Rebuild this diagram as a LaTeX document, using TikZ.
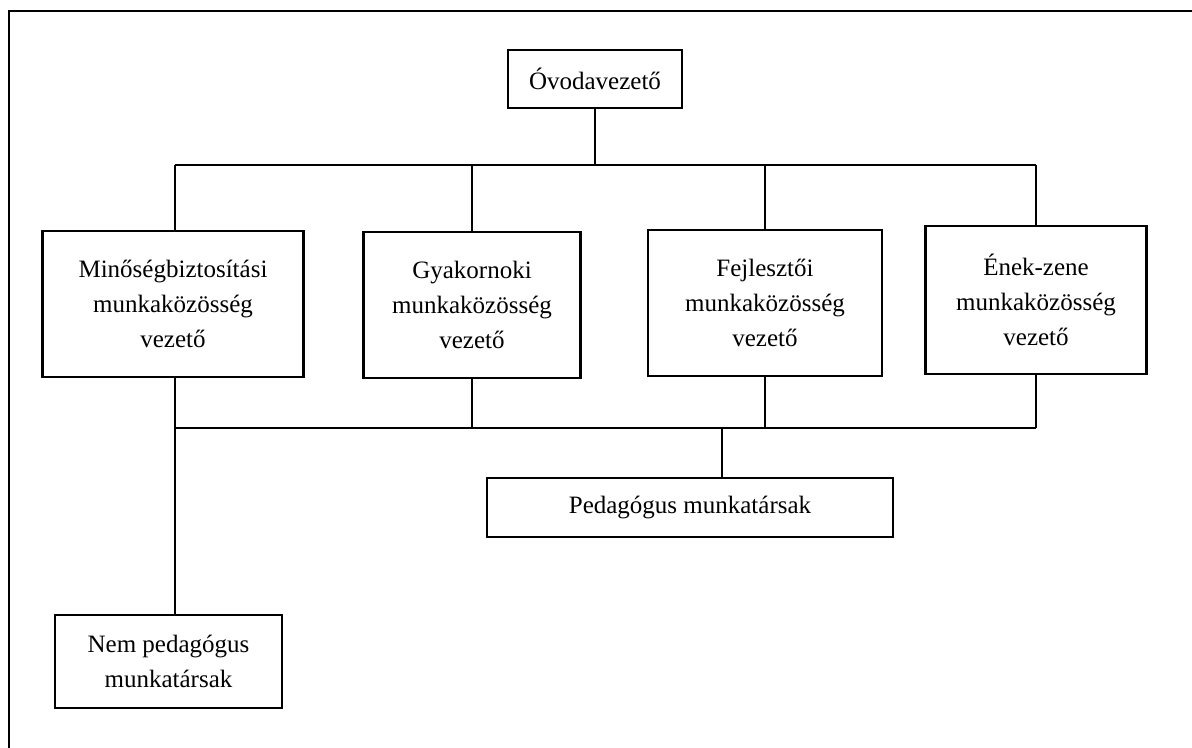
\documentclass[tikz,border=0pt]{standalone}
\usepackage{fontspec}
\setmainfont{Liberation Serif}
\begin{document}
\begin{tikzpicture}[x=0.5pt,y=-0.5pt,
  box/.style={draw=black,line width=1.1pt,align=center,inner sep=0pt,
    font=\fontsize{12.5}{17.5}\selectfont},
  conn/.style={draw=black,line width=1pt}]
\useasboundingbox (0,0) rectangle (1192,748);
% frame
\draw[line width=1.1pt] (9,748) -- (9,11) -- (1192,11);
% nodes
\node[box,minimum width=87pt,minimum height=29pt] (ovoda) at (595,79) {Óvodavezető};
\node[box,minimum width=130.5pt,minimum height=73pt] (b1) at (173,304) {Minőségbiztosítási\\munkaközösség\\vezető};
\node[box,minimum width=108.5pt,minimum height=73pt] (b2) at (472,305) {Gyakornoki\\munkaközösség\\vezető};
\node[box,minimum width=117pt,minimum height=73pt] (b3) at (765,303) {Fejlesztői\\munkaközösség\\vezető};
\node[box,minimum width=110.5pt,minimum height=74pt] (b4) at (1036,300) {Ének-zene\\munkaközösség\\vezető};
\node[box,minimum width=203pt,minimum height=29.5pt] (ped) at (690,507.5) {Pedagógus munkatársak};
\node[box,minimum width=113.5pt,minimum height=46.5pt] (nem) at (168.5,661.5) {Nem pedagógus\\munkatársak};
% junction coordinates
\coordinate (tl) at (175,165);
\coordinate (tr) at (1036,165);
\coordinate (bl) at (175,428);
\coordinate (br) at (1036,428);
\coordinate (pj) at (722,428);
% connectors
\draw[conn] (ovoda.south) -- (ovoda.south |- tl);
\draw[conn] (tl) -- (tr);
\draw[conn] (tl) -- (tl |- b1.north);
\draw[conn] (b2.north |- tl) -- (b2.north);
\draw[conn] (b3.north |- tl) -- (b3.north);
\draw[conn] (tr) -- (tr |- b4.north);
\draw[conn] (bl |- b1.south) -- (bl |- nem.north);
\draw[conn] (bl) -- (br);
\draw[conn] (b2.south) -- (b2.south |- bl);
\draw[conn] (b3.south) -- (b3.south |- bl);
\draw[conn] (br |- b4.south) -- (br);
\draw[conn] (pj) -- (pj |- ped.north);
\end{tikzpicture}
\end{document}
